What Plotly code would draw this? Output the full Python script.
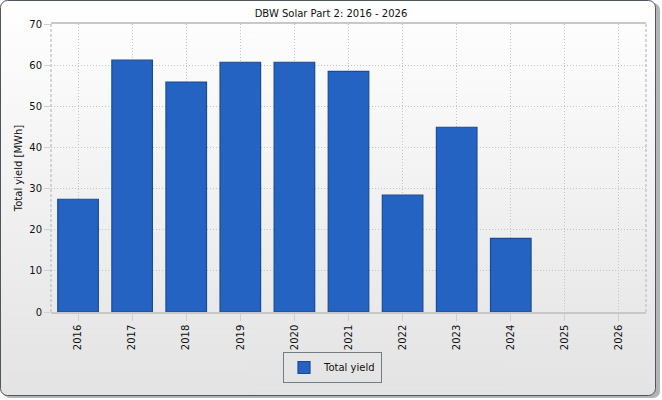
import base64
import plotly.graph_objects as go

years = ["2016", "2017", "2018", "2019", "2020", "2021",
         "2022", "2023", "2024", "2025", "2026"]
total_yield = [27.4, 61.2, 55.9, 60.7, 60.7, 58.5, 28.4, 44.9, 17.9, None, None]

title_text = "DBW Solar Part 2: 2016 - 2026"
y_title = "Total yield [MWh]"
series_name = "Total yield"

W, H = 662, 400
ml, mr, mt, mb = 51, 16, 24, 88
pw, ph = W - ml - mr, H - mt - mb

# frame with rounded corners, soft shadow and vertical gradient
svg = f"""<svg xmlns="http://www.w3.org/2000/svg" width="{W}" height="{H}" viewBox="0 0 {W} {H}">
<defs><linearGradient id="g" x1="0" y1="0" x2="0" y2="1">
<stop offset="0" stop-color="#ffffff"/><stop offset="1" stop-color="#e3e3e3"/>
</linearGradient></defs>
<rect x="3" y="3" width="657" height="395" rx="7" fill="#b4b4b4"/>
<rect x="0.5" y="0.5" width="655" height="395" rx="7" fill="url(#g)" stroke="#4b5660" stroke-width="1"/>
</svg>"""
bg_uri = "data:image/svg+xml;base64," + base64.b64encode(svg.encode()).decode()

font = "DejaVu Sans"
fs = 10

fig = go.Figure()
fig.add_trace(go.Bar(
    x=years, y=total_yield, name=series_name,
    marker=dict(color="#2463c1", line=dict(color="#1b4a96", width=1.2)),
    showlegend=True,
))

# dashed side borders of the plot area
for xp in (0, 1):
    fig.add_shape(type="line", xref="paper", yref="paper", x0=xp, x1=xp, y0=0, y1=1,
                  line=dict(color="#c8c8c8", width=1.5, dash="3px,2px"), layer="below")

fig.update_layout(
    width=W, height=H,
    margin=dict(l=ml, r=mr, t=mt, b=mb, autoexpand=False),
    paper_bgcolor="rgba(0,0,0,0)",
    plot_bgcolor="rgba(0,0,0,0)",
    font=dict(family=font, size=fs, color="#111111"),
    title=dict(text=title_text, x=0.5, xanchor="center", y=1 - 13 / H,
               yanchor="middle", font=dict(size=fs, color="#111111")),
    bargap=0.25,
    images=[dict(source=bg_uri, xref="paper", yref="paper",
                 x=-ml / pw, y=1 + mt / ph, sizex=W / pw, sizey=H / ph,
                 xanchor="left", yanchor="top", sizing="stretch",
                 layer="below")],
    legend=dict(orientation="h", x=(283 - ml) / pw, y=(312 - 352) / ph,
                xanchor="left", yanchor="top",
                bgcolor="rgba(0,0,0,0)", bordercolor="#6f7d86", borderwidth=1,
                font=dict(size=fs)),
    xaxis=dict(
        type="category", tickangle=-90,
        showgrid=True, gridcolor="#c4c4c4", griddash="1px,2px", gridwidth=1,
        showline=True, linecolor="#c8c8c8", linewidth=1.5, mirror=True,
        ticks="outside", ticklen=7, tickcolor="#cfcfcf",
        tickfont=dict(size=fs, color="#111111"),
    ),
    yaxis=dict(
        range=[0, 70], dtick=10, tick0=0,
        showgrid=True, gridcolor="#c4c4c4", griddash="1px,2px", gridwidth=1,
        showline=False, zeroline=False,
        ticks="outside", ticklen=6, tickcolor="#d0d0d0",
        tickfont=dict(size=fs, color="#111111"),
        title=dict(text=y_title, font=dict(size=fs, color="#111111"), standoff=4),
    ),
)

fig.write_html("out.html", config={"displayModeBar": False},
               post_script="document.body.style.margin='0';")
